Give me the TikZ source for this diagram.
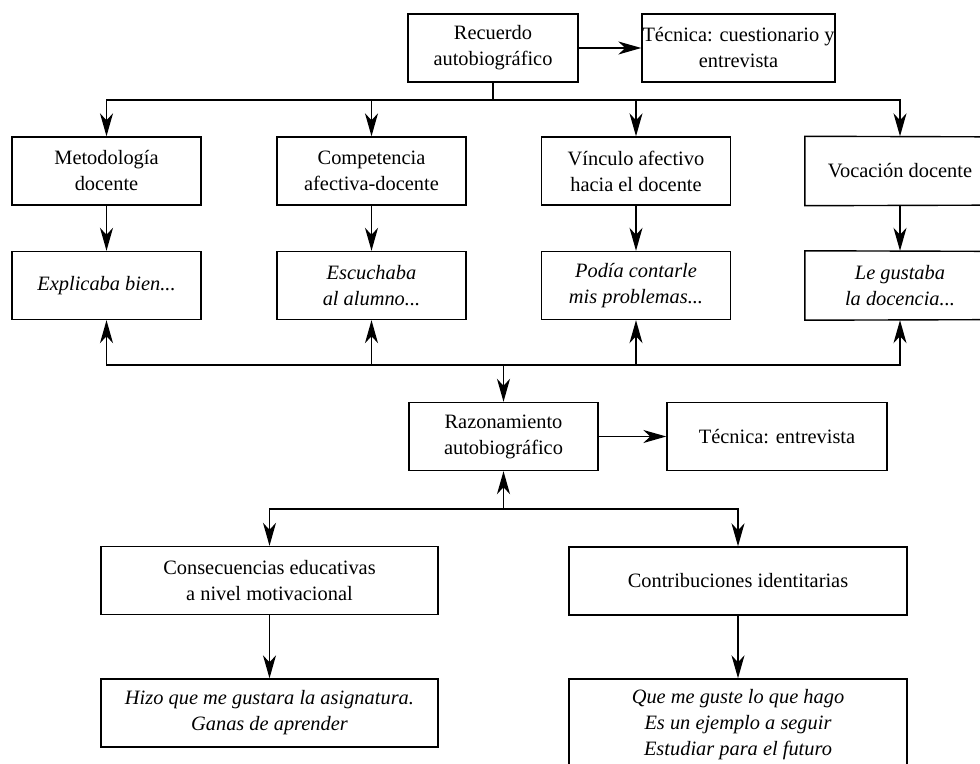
\documentclass[tikz,border=0pt]{standalone}
\usepackage{fontspec}
\setmainfont{Liberation Serif}
\usetikzlibrary{arrows.meta}
\begin{document}
\begin{tikzpicture}[x=0.5pt,y=-0.5pt,
  nbox/.style={draw, line width=0.7pt, align=center, inner sep=0pt,
    minimum width=#1*0.5pt, minimum height=68*0.5pt,
    font=\fontsize{10.2}{13}\selectfont},
  nbox/.default=189,
  ibox/.style={nbox=#1, font=\fontsize{10.2}{13}\selectfont\itshape},
  ibox/.default=189,
  obox/.style={nbox, draw=none},
  edge/.style={line width=0.7pt},
  arr/.style={line width=0.8pt, -{Stealth[length=11.5pt,width=6.5pt,inset=3.5pt]}},
  ln/.style={line width=0.8pt}]
\useasboundingbox (0,0) rectangle (980,764);
\clip (0,0) rectangle (980,764);
% top
\node[nbox=170] (rec) at (493,48) {Recuerdo\\autobiográfico};
\node[nbox=193] (tec1) at (738.5,48) {Técnica: cuestionario y\\entrevista};
% row 2
\node[nbox] (met) at (106.5,171) {Metodología\\docente};
\node[nbox] (com) at (371.5,171) {Competencia\\afectiva-docente};
\node[nbox] (vin) at (636,171) {Vínculo afectivo\\hacia el docente};
\node[obox] (voc) at (900,171) {Vocación docente};
\draw[edge] (1040,137) -- (voc.north west) -- (voc.south west) -- (1040,205);
% row 3
\node[ibox] (exp) at (106.5,285.5) {Explicaba bien...};
\node[ibox] (esc) at (371.5,285.5) {Escuchaba\\al alumno...};
\node[ibox] (pod) at (636,285.5) {Podía contarle\\mis problemas...};
\node[obox, font=\fontsize{10.2}{13}\selectfont\itshape] (gus) at (900,285.5) {Le gustaba\\la docencia...};
\draw[edge] (1040,251.5) -- (gus.north west) -- (gus.south west) -- (1040,319.5);
% middle
\node[nbox] (raz) at (503.5,436.5) {Razonamiento\\autobiográfico};
\node[nbox=220] (tec2) at (777,436.5) {Técnica: entrevista};
% bottom
\node[nbox=337] (con) at (269.5,580.5) {Consecuencias educativas\\a nivel motivacional};
\node[nbox=338] (cont) at (738,581) {Contribuciones identitarias};
\node[ibox=337] (hizo) at (269.5,713) {Hizo que me gustara la asignatura.\\Ganas de aprender};
\node[ibox=338, minimum height=92*0.5pt] (que) at (738,725) {Que me guste lo que hago\\Es un ejemplo a seguir\\Estudiar para el futuro};
% connectors top
\draw[arr] (rec) -- (tec1);
\coordinate (j1) at (493,100);
\draw[ln] (rec.south) -- (j1);
\draw[arr] (j1) -| (met.north);
\draw[arr] (j1) -| (com.north);
\draw[arr] (j1) -| (vin.north);
\draw[arr] (j1) -| (voc.north);
\draw[arr] (met) -- (exp);
\draw[arr] (com) -- (esc);
\draw[arr] (vin) -- (pod);
\draw[arr] (voc) -- (gus);
% bus to razonamiento
\coordinate (j2) at (503.5,365);
\draw[arr] (j2) -| (exp.south);
\draw[arr] (j2) -| (esc.south);
\draw[arr] (j2) -| (pod.south);
\draw[arr] (j2) -| (gus.south);
\draw[arr] (j2) -- (raz.north);
\draw[arr] (raz) -- (tec2);
% bottom bus
\coordinate (j3) at (503.5,509);
\draw[arr] (j3) -- (raz.south);
\draw[arr] (j3) -| (con.north);
\draw[arr] (j3) -| (cont.north);
\draw[arr] (con) -- (hizo);
\draw[arr] (cont) -- (que);
\end{tikzpicture}
\end{document}
